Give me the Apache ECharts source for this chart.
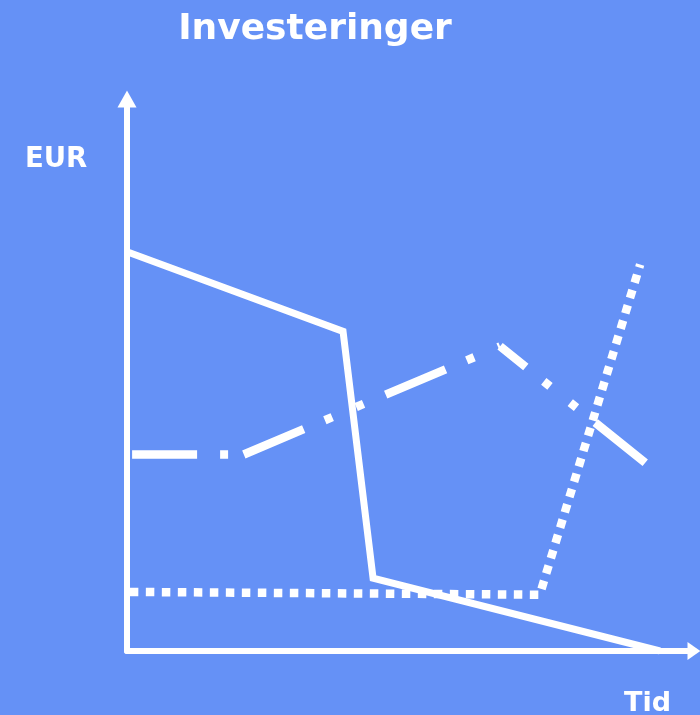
<!DOCTYPE html>
<html><head><meta charset="utf-8">
<script src="https://cdn.jsdelivr.net/npm/echarts@6/dist/echarts.min.js"></script>
<style>html,body{margin:0;padding:0;background:#6591F6}#c{width:700px;height:715px}</style>
</head><body><div id="c"></div>
<script>
// Data (arbitrary units, x: Tid 0-100, y: EUR 0-100)
const solidX = [0.35, 38.1, 43.4, 94.0];
const solidY = [72.2, 57.9, 13.2, 0];
const dashDotX = [0.9, 20.6, 65.8, 91.4];
const dashDotY = [35.6, 35.6, 55.2, 34.1];
const dottedX = [0.5, 72.8, 90.5];
const dottedY = [10.7, 10.2, 70.0];
const titleText = 'Investeringer';
const yName = 'EUR';
const xName = 'Tid';

// style: dash pattern offsets per segment of the dash-dot-dot line
const dashPattern = [65, 23, 8, 26, 8, 24];
const segOffsets = [0, 0, 32];

const zip = (xs, ys) => xs.map((x, i) => [x, ys[i]]);
const chart = echarts.init(document.getElementById('c'));
const font = 'DejaVu Sans';
const ddPts = zip(dashDotX, dashDotY);
const ddSeries = [];
for (let i = 0; i < ddPts.length - 1; i++) {
  ddSeries.push({type: 'line', data: [ddPts[i], ddPts[i + 1]], symbol: 'none',
    lineStyle: {color: '#fff', width: 8.5, type: dashPattern, dashOffset: segOffsets[i], cap: 'butt'}});
}
chart.setOption({
  backgroundColor: '#6591F6',
  animation: false,
  title: [
    {text: titleText, left: 310, top: 7, textAlign: 'center',
     textStyle: {color: '#fff', fontSize: 36, fontWeight: 'bold', fontFamily: font}},
    {text: yName, left: 20, top: 141,
     textStyle: {color: '#fff', fontSize: 27.5, fontWeight: 'bold', fontFamily: font}},
    {text: xName, left: 619, top: 685,
     textStyle: {color: '#fff', fontSize: 27, fontWeight: 'bold', fontFamily: font}}
  ],
  grid: {left: 127, right: 6, top: 99, bottom: 64},
  xAxis: {type: 'value', min: 0, max: 100,
    axisLine: {show: true, symbol: ['none', 'triangle'], symbolSize: [18, 13],
      lineStyle: {color: '#fff', width: 6}},
    axisTick: {show: false}, axisLabel: {show: false}, splitLine: {show: false}},
  yAxis: {type: 'value', min: 0, max: 100,
    axisLine: {show: true, symbol: ['none', 'triangle'], symbolSize: [19, 17],
      lineStyle: {color: '#fff', width: 6}},
    axisTick: {show: false}, axisLabel: {show: false}, splitLine: {show: false}},
  series: [
    {type: 'line', data: zip(solidX, solidY), symbol: 'none',
     lineStyle: {color: '#fff', width: 7, join: 'miter'}},
    ...ddSeries,
    {type: 'line', data: zip(dottedX, dottedY), symbol: 'none',
     lineStyle: {color: '#fff', width: 8.5, type: [8.5, 7.5], cap: 'butt'}}
  ]
});
</script></body></html>
